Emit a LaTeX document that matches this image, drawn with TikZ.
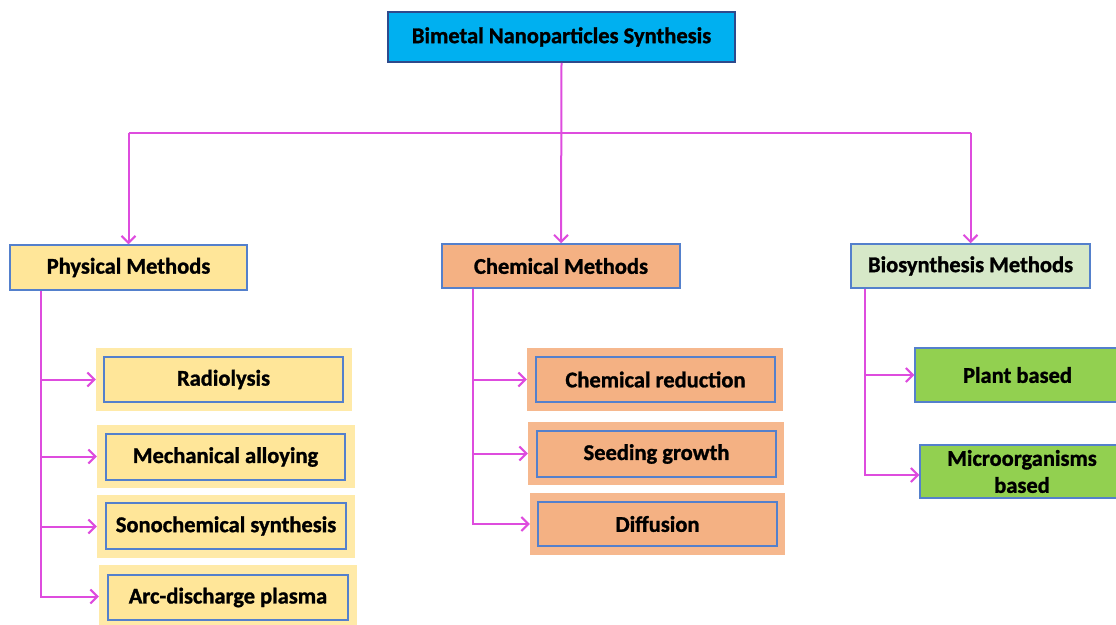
\documentclass[tikz,border=0pt]{standalone}
\usepackage{fontspec}
\setmainfont{Carlito}[BoldFeatures={FakeBold=1.2}]
\usetikzlibrary{arrows.meta}
\definecolor{mag}{RGB}{222,76,222}
\definecolor{topfill}{RGB}{0,176,240}
\definecolor{topborder}{RGB}{46,74,140}
\definecolor{boxblue}{RGB}{84,128,204}
\definecolor{physfill}{RGB}{255,230,153}
\definecolor{physglow}{RGB}{255,234,168}
\definecolor{chemfill}{RGB}{244,177,131}
\definecolor{chemglow}{RGB}{246,184,142}
\definecolor{biofill}{RGB}{214,232,200}
\definecolor{greenfill}{RGB}{146,208,80}
\tikzset{
  lbl/.style={font=\bfseries\fontsize{22.5}{27}\selectfont, text=black, align=center, inner sep=0pt},
  headbox/.style={lbl, draw=boxblue, line width=1.5pt},
  subbox/.style={lbl, draw=boxblue, line width=2pt, minimum height=45pt},
  glowbox/.style={draw=none, inner sep=0pt, minimum height=63pt},
  ln/.style={draw=mag, line width=2pt},
  arr/.style={draw=mag, line width=2pt, -{Straight Barb[length=7pt,width=14pt,line width=2pt]}},
}
\begin{document}
\begin{tikzpicture}[x=1pt,y=-1pt]
\useasboundingbox (0,0) rectangle (1116,624);
% top
\node[lbl, draw=topborder, line width=1.5pt, fill=topfill, minimum width=347pt, minimum height=50pt] (top) at (561.5,37) {Bimetal Nanoparticles Synthesis};
% categories
\node[headbox, fill=physfill, minimum width=237pt, minimum height=45pt] (phys) at (128.5,267.5) {Physical Methods};
\node[headbox, fill=chemfill, minimum width=238pt, minimum height=44pt] (chem) at (561,266) {Chemical Methods};
\node[headbox, fill=biofill, minimum width=239pt, minimum height=44pt] (bio) at (970.5,266) {Biosynthesis Methods};
% physical children
\node[glowbox, fill=physglow, minimum width=256pt] (radG) at (224,379.5) {};
\node[subbox, fill=physfill, minimum width=239pt] (rad) at (223.5,379.5) {Radiolysis};
\node[glowbox, fill=physglow, minimum width=258pt] (mechG) at (226,456.5) {};
\node[subbox, fill=physfill, minimum width=239pt, minimum height=46pt] (mech) at (225.5,457) {Mechanical alloying};
\node[glowbox, fill=physglow, minimum width=258pt] (sonoG) at (226,526.5) {};
\node[subbox, fill=physfill, minimum width=240pt, minimum height=46pt] (sono) at (226,526) {Sonochemical synthesis};
\node[glowbox, fill=physglow, minimum width=258pt] (arcG) at (228,596.5) {};
\node[subbox, fill=physfill, minimum width=240pt] (arc) at (228,597.5) {Arc-discharge plasma};
% chemical children
\node[glowbox, fill=chemglow, minimum width=256pt] (crG) at (655,379.5) {};
\node[subbox, fill=chemfill, minimum width=239pt] (cr) at (655.5,379.5) {Chemical reduction};
\node[glowbox, fill=chemglow, minimum width=256pt] (sgG) at (656,453.5) {};
\node[subbox, fill=chemfill, minimum width=239pt, minimum height=46pt] (sg) at (656.5,454) {Seeding growth};
\node[glowbox, fill=chemglow, minimum width=255pt, minimum height=62pt] (diffG) at (657.5,524) {};
\node[subbox, fill=chemfill, minimum width=239pt, minimum height=44pt] (diff) at (657.5,524) {Diffusion};
% bio children
\node[lbl, draw=boxblue, line width=1.5pt, fill=greenfill, minimum width=205pt, minimum height=54pt] (plant) at (1017.5,375) {Plant based};
\node[lbl, draw=boxblue, line width=1.5pt, fill=greenfill, minimum width=204pt, minimum height=53pt] (micro) at (1022,471.5) {Microorganisms\\based};
% connectors from top
\path (top.south) ++(0,70) coordinate (J);
\draw[arr] (top.south) -- (chem.north);
\draw[ln] (phys.north |- J) -- (bio.north |- J);
\draw[arr] (phys.north |- J) -- (phys.north);
\draw[arr] (bio.north |- J) -- (bio.north);
% physical trunk
\coordinate (px) at (41,0);
\coordinate (pT) at (phys.south -| px);
\draw[arr] (pT) |- (arcG.west);
\draw[arr] (pT |- radG.west) -- (radG.west);
\draw[arr] (pT |- mechG.west) -- (mechG.west);
\draw[arr] (pT |- sonoG.west) -- (sonoG.west);
% chemical trunk
\coordinate (cx) at (473,0);
\coordinate (cT) at (chem.south -| cx);
\draw[arr] (cT) |- (diffG.west);
\draw[arr] (cT |- crG.west) -- (crG.west);
\draw[arr] (cT |- sgG.west) -- (sgG.west);
% bio trunk
\coordinate (bx) at (865,0);
\coordinate (bT) at (bio.south -| bx);
\coordinate (my) at (0,475);
\coordinate (mE) at (micro.west |- my);
\draw[arr] (bT) |- (mE);
\draw[arr] (bT |- plant.west) -- (plant.west);
\end{tikzpicture}
\end{document}
